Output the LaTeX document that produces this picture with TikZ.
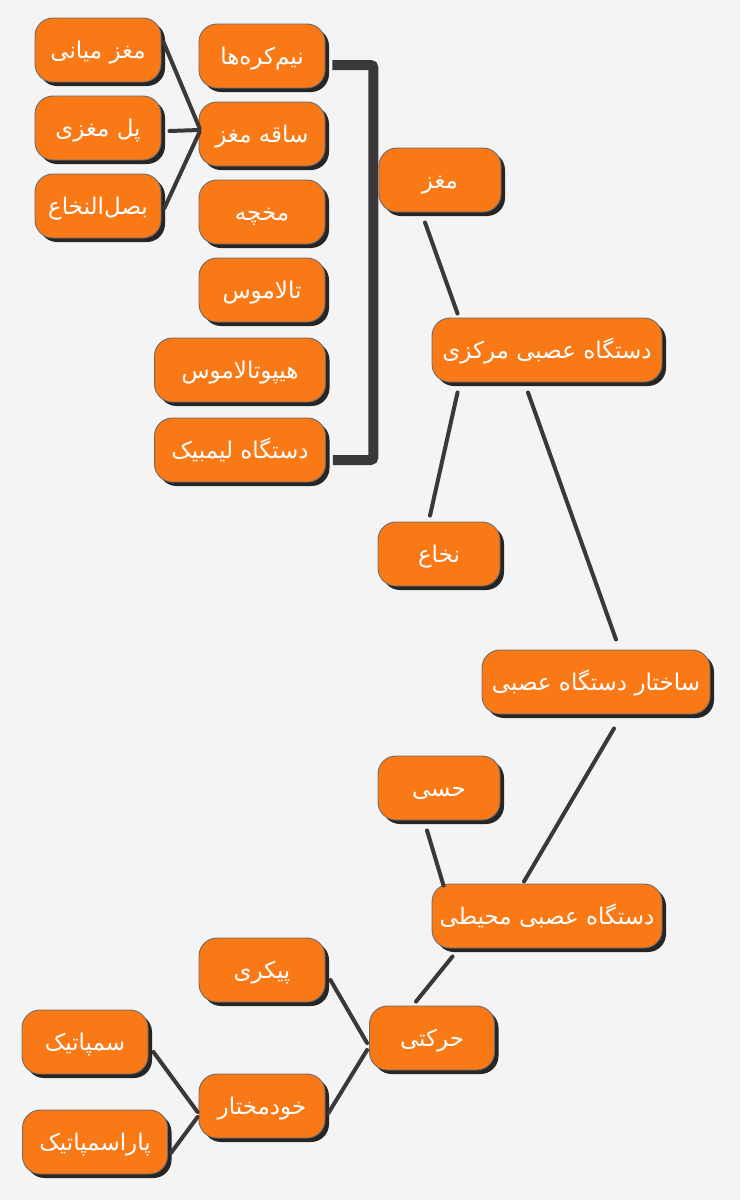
\documentclass[tikz,border=0pt]{standalone}
\usepackage{fontspec}
\usetikzlibrary{shadows}
\TeXXeTstate=1
\newfontfamily\arabicfont[Script=Arabic]{DejaVu Sans}
\newcommand\pers[1]{{\arabicfont\beginR #1\endR}}
\definecolor{bgcol}{HTML}{F5F4F5}
\definecolor{boxfill}{HTML}{F97916}
\definecolor{boxline}{HTML}{6E6A6A}
\definecolor{linkcol}{HTML}{3A3838}

\begin{document}
\begin{tikzpicture}[x=1pt,y=-1pt]
		\tikzstyle {topic} = [rectangle, rounded corners=18pt, fill=boxfill, draw=boxline, line width=0.9pt,
		                      minimum height=64pt, minimum width=126pt, text=white, font=\fontsize{23}{26}\selectfont,
		                      text height=19pt, text depth=3pt,
		                      drop shadow={shadow xshift=4pt, shadow yshift=-4pt, fill=black!85, opacity=1}]
		\tikzstyle {link} = [linkcol, line width=4pt, line cap=round]
		\tikzstyle {bracket} = [linkcol, line width=10pt, rounded corners=3pt]

		\fill[bgcol] (0,0) rectangle (740,1200);

		% brain parts
		\node[topic] (miani) at (98,50) {\pers{مغز میانی}};
		\node[topic] (pol) at (98,128) {\pers{پل مغزی}};
		\node[topic] (basal) at (98,206) {\pers{بصل‌النخاع}};
		\node[topic] (nim) at (262,56) {\pers{نیم‌کره‌ها}};
		\node[topic] (saghe) at (262,134) {\pers{ساقه مغز}};
		\node[topic] (mokhche) at (262,212) {\pers{مخچه}};
		\node[topic] (talamus) at (262,290) {\pers{تالاموس}};
		\node[topic, minimum width=171pt] (hipo) at (240,370) {\pers{هیپوتالاموس}};
		\node[topic, minimum width=171pt] (limb) at (240,450) {\pers{دستگاه لیمبیک}};

		% central branch
		\node[topic, minimum width=122pt] (maghz) at (440,180) {\pers{مغز}};
		\node[topic, minimum width=230pt] (markazi) at (547,350) {\pers{دستگاه عصبی مرکزی}};
		\node[topic, minimum width=122pt] (nokhaa) at (439,554) {\pers{نخاع}};
		\node[topic, minimum width=228pt] (sakhtar) at (596,682) {\pers{ساختار دستگاه عصبی}};

		% peripheral branch
		\node[topic, minimum width=122pt] (hessi) at (439,788) {\pers{حسی}};
		\node[topic, minimum width=230pt] (mohiti) at (547,916) {\pers{دستگاه عصبی محیطی}};
		\node[topic] (peykari) at (262,970) {\pers{پیکری}};
		\node[topic, minimum width=125pt] (harekati) at (432,1038) {\pers{حرکتی}};
		\node[topic] (sampatik) at (85,1042) {\pers{سمپاتیک}};
		\node[topic] (khod) at (262,1106) {\pers{خودمختار}};
		\node[topic, minimum width=145pt] (parasamp) at (95,1142) {\pers{پاراسمپاتیک}};

		\draw[bracket] ([shift={(7,9)}]nim.east) -- ++(41,0) |- ([shift={(7,10)}]limb.east);

		\draw[link] ([shift={(2,-8)}]miani.east) -- ([shift={(1,-6)}]saghe.west);
		\draw[link] ([shift={(8,3)}]pol.east) -- ([shift={(1,-4)}]saghe.west);
		\draw[link] ([shift={(3,2)}]basal.east) -- ([shift={(1,-2)}]saghe.west);

		\draw[link] ([shift={(-15,10)}]maghz.south) -- ([shift={(26,-4)}]markazi.north west);
		\draw[link] ([shift={(26,10)}]markazi.south west) -- ([shift={(-9,-6)}]nokhaa.north);
		\draw[link] ([shift={(-19,10)}]markazi.south) -- ([shift={(20,-10)}]sakhtar.north);
		\draw[link] ([shift={(18,14)}]sakhtar.south) -- ([shift={(-23,-2)}]mohiti.north);
		\draw[link] ([shift={(-12,10)}]hessi.south) -- ([shift={(12,2)}]mohiti.north west);
		\draw[link] ([shift={(21,8)}]mohiti.south west) -- ([shift={(-16,-4)}]harekati.north);
		\draw[link] ([shift={(5,10)}]peykari.east) -- ([shift={(-2,5)}]harekati.west);
		\draw[link] ([shift={(3,7)}]khod.east) -- ([shift={(-2,12)}]harekati.west);
		\draw[link] ([shift={(5,10)}]sampatik.east) -- ([shift={(-1,6)}]khod.west);
		\draw[link] ([shift={(3,11)}]parasamp.east) -- ([shift={(-1,11)}]khod.west);
\end{tikzpicture}
\end{document}
